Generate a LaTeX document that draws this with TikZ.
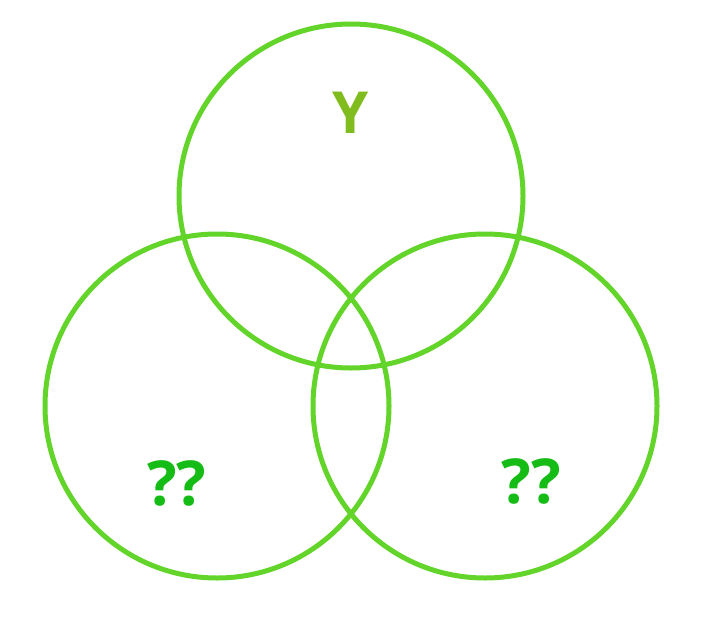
\documentclass[tikz,border=0pt]{standalone}
\usepackage{fontspec}
\setmainfont{Open Sans}
\definecolor{ring}{RGB}{98,212,42}
\definecolor{ylab}{RGB}{128,188,30}
\definecolor{qlab}{RGB}{22,188,22}
\begin{document}
\begin{tikzpicture}[x=1pt,y=-1pt,
  ring/.style={draw=ring,line width=5pt,circle,minimum size=344pt,inner sep=0pt},
  lab/.style={font=\fontsize{58}{60}\selectfont\bfseries,inner sep=0pt},
  qlabel/.style={font=\fontsize{62}{64}\selectfont\bfseries,inner sep=0pt}]
\useasboundingbox (0,0) rectangle (706,618);
\node[ring] (top) at (351,196) {};
\node[ring] (left) at (217,406) {};
\node[ring] (right) at (485,406) {};
\node[lab,text=ylab] (ty) at (351,113) {Y};
\node[qlabel,text=qlab] (tl) at (177,483) {??};
\node[qlabel,text=qlab] (tr) at (531,481) {??};
\end{tikzpicture}
\end{document}
